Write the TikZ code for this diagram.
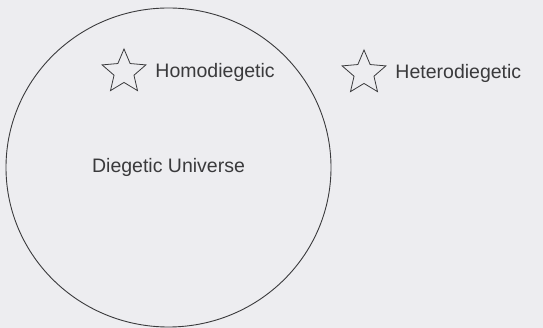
\documentclass[tikz,border=0pt]{standalone}
\usepackage{fontspec}
\setmainfont{Liberation Sans}
\usepackage{xcolor}
\usetikzlibrary{shapes.geometric,positioning}
\definecolor{paper}{HTML}{EDEDF0}
\definecolor{ink}{HTML}{3A3A3C}
\tikzset{
  universe/.style={ellipse, draw=ink, line width=0.9pt, minimum width=325pt,
    minimum height=319pt, inner sep=0pt, font=\fontsize{19.5}{22}\selectfont, text=ink},
  mark star/.style={star, star points=5, star point ratio=2.2, draw=ink, line width=0.8pt,
    minimum size=46pt, inner sep=0pt},
  lbl/.style={font=\fontsize{19.5}{22}\selectfont, text=ink, inner sep=0pt},
}
\begin{document}
\begin{tikzpicture}[x=1pt, y=1pt, node distance=17pt]
  \fill[paper] (0,0) rectangle (543,-328);
  \useasboundingbox (0,0) rectangle (543,-328);
  % the diegetic world
  \node[universe] (univ) at (168.5,-167.5) {Diegetic Universe};
  % narrator inside
  \node[mark star] (homo) at (124,-72) {};
  \node[lbl, right=of homo] (homolbl) {Homodiegetic};
  % narrator outside
  \node[mark star] (hetero) at (364,-73) {};
  \node[lbl, right=of hetero] (heterolbl) {Heterodiegetic};
\end{tikzpicture}
\end{document}
